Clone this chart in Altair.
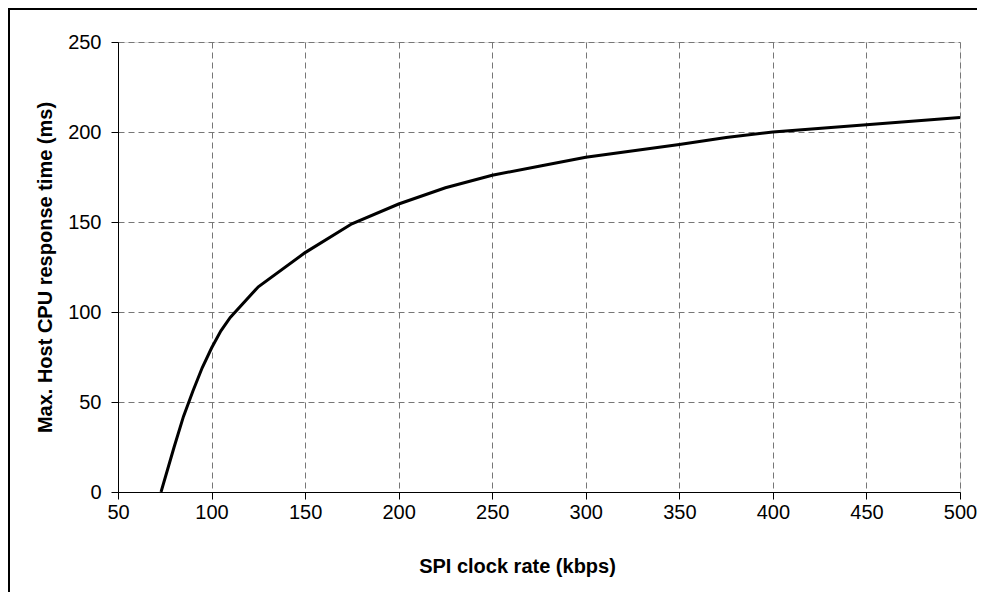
import altair as alt
import pandas as pd

# SPI clock rate (kbps) and max host CPU response time (ms)
rate_kbps = [73, 80, 85, 90, 95, 100, 105, 110, 125, 150, 175, 200, 225, 250, 275, 300, 350, 375, 400, 450, 500]
response_ms = [0, 25, 42, 56, 69, 80, 89.5, 97, 114, 133, 149, 160, 169, 176, 181, 186, 193, 197, 200, 204, 208]

x_ticks = [50, 100, 150, 200, 250, 300, 350, 400, 450, 500]
y_ticks = [0, 50, 100, 150, 200, 250]

W, H = 842, 450
PAD = {"left": 110, "top": 34, "right": 17, "bottom": 100}

df = pd.DataFrame({"rate": rate_kbps, "resp": response_ms})

FONT = "Liberation Sans"
FS = 20

x_enc = alt.X(
    "rate:Q",
    scale=alt.Scale(domain=[50, 500], nice=False, zero=False),
    axis=alt.Axis(
        values=x_ticks, title="SPI clock rate (kbps)", grid=True,
        gridDash=[6, 4], gridColor="#777777", gridWidth=1,
        domainColor="#000000", tickColor="#000000", tickSize=7,
        labelFontSize=FS, labelFont=FONT, labelColor="#000000", labelPadding=3,
        titleFontSize=FS, titleFont=FONT, titleFontWeight="bold", titleColor="#000000",
        titlePadding=34, titleX=399, labelFlush=False,
    ),
)
y_enc = alt.Y(
    "resp:Q",
    scale=alt.Scale(domain=[0, 250], nice=False),
    axis=alt.Axis(
        values=y_ticks, title="Max. Host CPU response time (ms)", grid=True,
        gridDash=[6, 4], gridColor="#777777", gridWidth=1,
        domainColor="#000000", tickColor="#000000", tickSize=7,
        labelFontSize=FS, labelFont=FONT, labelColor="#000000", labelPadding=10,
        titleFontSize=FS, titleFont=FONT, titleFontWeight="bold", titleColor="#000000",
        titlePadding=12, labelFlush=False,
    ),
)

line = alt.Chart(df).mark_line(color="#000000", strokeWidth=3, clip=True).encode(x=x_enc, y=y_enc)

# outer chart frame (left and top edges visible in the window)
frame_top = alt.Chart(df).mark_rule(color="#000000", strokeWidth=2, clip=False).encode(
    x=alt.value(-PAD["left"]), x2=alt.value(W + PAD["right"]), y=alt.value(-33)
)
frame_left = alt.Chart(df).mark_rule(color="#000000", strokeWidth=2, clip=False).encode(
    x=alt.value(-109), y=alt.value(-PAD["top"]), y2=alt.value(H + PAD["bottom"])
)

chart = (
    alt.layer(line, frame_top, frame_left)
    .properties(width=W, height=H, autosize=alt.AutoSizeParams(type="none"), padding=PAD)
    .configure_view(stroke="#999999", strokeWidth=1.5)
    .configure(background="#ffffff")
)

chart.save("out.html", embed_options={"renderer": "svg", "actions": False})
